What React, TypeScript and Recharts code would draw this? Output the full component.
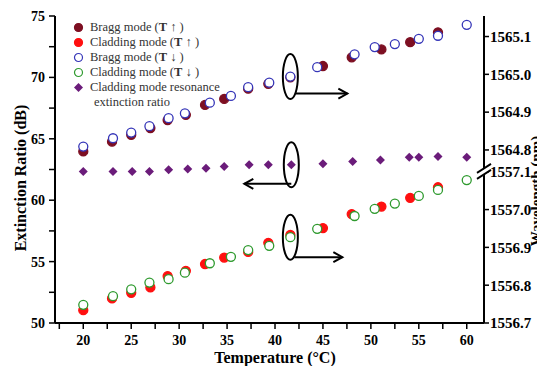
import React from "react";
import { ScatterChart, Scatter, XAxis, YAxis, ReferenceDot } from "recharts";

const FONT = "'Liberation Serif', 'Times New Roman', serif";

// heating run (T up)
const tempUp = [20, 23, 25, 27, 28.8, 30.7, 32.7, 34.7, 37.2, 39.3, 41.6, 45, 48, 51.1, 54.1, 57];
const braggUp = [1564.796, 1564.822, 1564.84, 1564.858, 1564.879, 1564.893, 1564.919, 1564.935, 1564.962, 1564.975, 1564.992, 1565.022, 1565.045, 1565.066, 1565.085, 1565.111];
const claddingUp = [1556.734, 1556.765, 1556.78, 1556.794, 1556.824, 1556.838, 1556.856, 1556.873, 1556.888, 1556.912, 1556.933, 1556.951, 1556.988, 1557.008, 1557.031, 1557.059];

// cooling run (T down)
const tempDown = [20, 23.1, 25, 26.9, 28.9, 30.6, 33.2, 35.4, 37.2, 39.4, 41.6, 44.4, 48.3, 50.4, 52.5, 55, 57, 60];
const braggDown = [1564.809, 1564.831, 1564.846, 1564.863, 1564.884, 1564.897, 1564.925, 1564.943, 1564.966, 1564.978, 1564.994, 1565.019, 1565.053, 1565.072, 1565.08, 1565.094, 1565.102, 1565.131];
const claddingDown = [1556.748, 1556.771, 1556.789, 1556.807, 1556.816, 1556.833, 1556.858, 1556.875, 1556.893, 1556.904, 1556.927, 1556.949, 1556.983, 1557.002, 1557.016, 1557.036, 1557.052, 1557.078];

// cladding mode resonance extinction ratio (dB)
const tempEr = [20, 23.1, 25.1, 26.9, 28.9, 30.9, 32.8, 34.7, 37.3, 39.3, 41.7, 45, 48.1, 51, 54, 55, 57, 60];
const extinction = [62.33, 62.33, 62.33, 62.33, 62.47, 62.55, 62.61, 62.74, 62.88, 62.88, 62.88, 62.96, 63.15, 63.28, 63.5, 63.5, 63.55, 63.5];

const xTicks = [17.5, 20, 22.5, 25, 27.5, 30, 32.5, 35, 37.5, 40, 42.5, 45, 47.5, 50, 52.5, 55, 57.5, 60];
const erTicks = [50, 52.5, 55, 57.5, 60, 62.5, 65, 67.5, 70, 72.5, 75];
const wlTicks = [1556.7, 1556.8, 1556.9, 1557.0, 1557.1, 1564.8, 1564.9, 1565.0, 1565.1];

// broken wavelength axis: the upper segment is shifted down onto the lower one
const BREAK_SHIFT = 7.6423;
const toAxis = (w: number) => (w > 1560 ? w - BREAK_SHIFT : w);
const fromAxis = (v: number) => (v > 1557.13 ? v + BREAK_SHIFT : v);

const X_DOMAIN: [number, number] = [17.05, 61.8];
const WL_DOMAIN: [number, number] = [1556.7, 1557.512];

const zip = (xs: number[], ys: number[], f = (v: number) => v) => xs.map((x, i) => ({ x, y: f(ys[i]) }));

const braggUpData = zip(tempUp, braggUp, toAxis);
const claddingUpData = zip(tempUp, claddingUp, toAxis);
const braggDownData = zip(tempDown, braggDown, toAxis);
const claddingDownData = zip(tempDown, claddingDown, toAxis);
const erData = zip(tempEr, extinction);

const COLORS = {
  braggUp: "#7d0f22",
  claddingUp: "#ff1010",
  braggDown: "#3535b8",
  claddingDown: "#2e9a2e",
  er: "#6b1c7a",
};

const tickStyle = { fontFamily: FONT, fontSize: 14, fontWeight: "bold", fill: "#000" };
const lineStyle = { stroke: "#000", strokeWidth: 2 };
const tickLineStyle = { stroke: "#000", strokeWidth: 1.5 };

const fiveOnly = (v: number) => (v % 5 === 0 ? String(v) : "");

const dot = (fill: string, stroke: string) => (p: any) => (
  <circle cx={p.cx} cy={p.cy} r={4.5} fill={fill} stroke={stroke} strokeWidth={1.3} />
);

const diamond = (p: any) => (
  <polygon
    points={`${p.cx},${p.cy - 4.5} ${p.cx + 4.5},${p.cy} ${p.cx},${p.cy + 4.5} ${p.cx - 4.5},${p.cy}`}
    fill={COLORS.er}
  />
);

// ellipse round a point with an arrow pointing to the axis it belongs to
const marker = (dy: number, x0: number, x1: number) => (p: any) => {
  const y = p.cy + dy;
  const dir = x1 > x0 ? 1 : -1;
  return (
    <g fill="none" stroke="#000" strokeWidth={2}>
      <ellipse cx={p.cx} cy={p.cy} rx={7.5} ry={22.5} />
      <line x1={p.cx + x0} y1={y} x2={p.cx + x1} y2={y} />
      <polyline points={`${p.cx + x1 - dir * 9},${y - 5} ${p.cx + x1},${y} ${p.cx + x1 - dir * 9},${y + 5}`} />
    </g>
  );
};

const axisBreak = (p: any) => (
  <g>
    <polygon points={`${p.cx - 6},${p.cy + 3} ${p.cx + 6},${p.cy - 5} ${p.cx + 6},${p.cy + 1} ${p.cx - 6},${p.cy + 9}`} fill="#fff" />
    <line x1={p.cx - 7} y1={p.cy + 3} x2={p.cx + 7} y2={p.cy - 6} stroke="#000" strokeWidth={1.8} />
    <line x1={p.cx - 7} y1={p.cy + 9} x2={p.cx + 7} y2={p.cy} stroke="#000" strokeWidth={1.8} />
  </g>
);

const title = (text: string, dx: number, dy: number, angle: number, size = 16) => (props: any) => {
  const vb = props.viewBox;
  const x = vb.x + dx;
  const y = vb.y + dy;
  return (
    <text
      x={x}
      y={y}
      transform={`rotate(${angle} ${x} ${y})`}
      textAnchor="middle"
      dominantBaseline="central"
      fontFamily={FONT}
      fontSize={size}
      fontWeight="bold"
      fill="#000"
    >
      {text}
    </text>
  );
};

const legendItems = [
  { label: "Bragg mode", arrow: "\u2191", kind: "filled", color: COLORS.braggUp },
  { label: "Cladding mode", arrow: "\u2191", kind: "filled", color: COLORS.claddingUp },
  { label: "Bragg mode", arrow: "\u2193", kind: "open", color: COLORS.braggDown },
  { label: "Cladding mode", arrow: "\u2193", kind: "open", color: COLORS.claddingDown },
];

const LegendBox = () => (
  <div
    style={{
      position: "absolute",
      left: 65,
      top: 12,
      fontFamily: FONT,
      fontSize: 12.5,
      lineHeight: "15px",
      color: "#333",
      whiteSpace: "nowrap",
    }}
  >
    {legendItems.map((it, i) => (
      <div key={i} style={{ display: "flex", alignItems: "center", height: 15 }}>
        <svg width={11} height={11} style={{ marginRight: 6 }}>
          <circle
            cx={5.5}
            cy={5.5}
            r={4}
            fill={it.kind === "filled" ? it.color : "#fff"}
            stroke={it.color}
            strokeWidth={1.2}
          />
        </svg>
        <span>
          {it.label} (<b>T</b> {it.arrow} )
        </span>
      </div>
    ))}
    <div style={{ display: "flex", alignItems: "center", height: 15 }}>
      <svg width={11} height={11} style={{ marginRight: 6 }}>
        <polygon points="5.5,1 10,5.5 5.5,10 1,5.5" fill={COLORS.er} />
      </svg>
      <span>Cladding mode resonance</span>
    </div>
    <div style={{ paddingLeft: 21, height: 15 }}>extinction ratio</div>
  </div>
);

export default function App() {
  return (
    <div style={{ position: "relative", width: 537, height: 358 }}>
      <ScatterChart width={537} height={358} margin={{ top: 8, right: 6, bottom: 13, left: 7 }}>
        <XAxis
          type="number"
          dataKey="x"
          domain={X_DOMAIN}
          allowDataOverflow
          ticks={xTicks}
          interval={0}
          tickFormatter={fiveOnly}
          height={30}
          tickSize={6}
          tickMargin={6}
          tick={tickStyle}
          axisLine={lineStyle}
          tickLine={tickLineStyle}
          label={{ content: title("Temperature (\u00B0C)", 220, 34, 0) }}
        />
        <XAxis
          xAxisId="top"
          orientation="top"
          type="number"
          domain={X_DOMAIN}
          allowDataOverflow
          height={0}
          tick={false}
          tickLine={false}
          axisLine={lineStyle}
        />
        <YAxis
          yAxisId="left"
          type="number"
          dataKey="y"
          domain={[50, 75]}
          allowDataOverflow
          ticks={erTicks}
          interval={0}
          tickFormatter={fiveOnly}
          width={40}
          tickSize={6}
          tickMargin={4}
          tick={tickStyle}
          axisLine={lineStyle}
          tickLine={tickLineStyle}
          label={{ content: title("Extinction Ratio (dB)", 5, 162, -90) }}
        />
        <YAxis
          yAxisId="right"
          orientation="right"
          type="number"
          dataKey="y"
          domain={WL_DOMAIN}
          allowDataOverflow
          ticks={wlTicks.map(toAxis)}
          interval={0}
          tickFormatter={(v: number) => fromAxis(v).toFixed(1)}
          width={55}
          tickSize={5}
          tickMargin={1}
          tick={{ ...tickStyle, fontSize: 15 }}
          axisLine={lineStyle}
          tickLine={tickLineStyle}
          label={{ content: title("Wavelength (nm)", 52, 175, -90, 15) }}
        />
        <Scatter name="Bragg mode (T up)" data={braggUpData} yAxisId="right" shape={dot(COLORS.braggUp, COLORS.braggUp)} isAnimationActive={false} />
        <Scatter name="Cladding mode (T up)" data={claddingUpData} yAxisId="right" shape={dot(COLORS.claddingUp, COLORS.claddingUp)} isAnimationActive={false} />
        <Scatter name="Bragg mode (T down)" data={braggDownData} yAxisId="right" shape={dot("#fff", COLORS.braggDown)} isAnimationActive={false} />
        <Scatter name="Cladding mode (T down)" data={claddingDownData} yAxisId="right" shape={dot("#fff", COLORS.claddingDown)} isAnimationActive={false} />
        <Scatter name="Cladding mode resonance extinction ratio" data={erData} yAxisId="left" shape={diamond} isAnimationActive={false} />
        <ReferenceDot x={41.6} y={toAxis(1564.994)} yAxisId="right" shape={marker(17, 5, 57)} />
        <ReferenceDot x={41.7} y={62.88} yAxisId="left" shape={marker(19, 0, -47)} />
        <ReferenceDot x={41.6} y={1556.927} yAxisId="right" shape={marker(20, 4, 52)} />
        <ReferenceDot x={X_DOMAIN[1]} y={1557.105} yAxisId="right" shape={axisBreak} />
      </ScatterChart>
      <LegendBox />
    </div>
  );
}
